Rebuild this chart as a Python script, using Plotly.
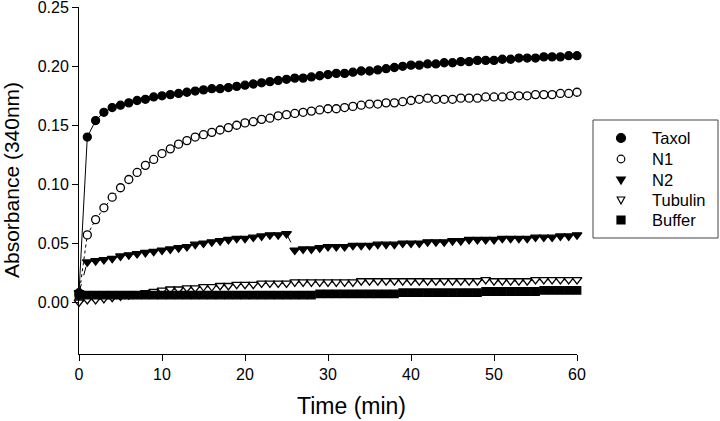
import plotly.graph_objects as go

time = list(range(61))

taxol = [0.008, 0.140, 0.154, 0.161, 0.165, 0.167, 0.169, 0.171, 0.172, 0.174,
         0.175, 0.176, 0.177, 0.178, 0.179, 0.180, 0.181, 0.181, 0.182, 0.183,
         0.184, 0.185, 0.186, 0.187, 0.188, 0.189, 0.190, 0.190, 0.191, 0.192,
         0.193, 0.194, 0.194, 0.195, 0.196, 0.196, 0.197, 0.198, 0.199, 0.200,
         0.201, 0.201, 0.202, 0.202, 0.203, 0.203, 0.204, 0.204, 0.205, 0.205,
         0.205, 0.206, 0.206, 0.207, 0.207, 0.207, 0.208, 0.208, 0.208, 0.209,
         0.209]

n1 = [0.006, 0.057, 0.070, 0.080, 0.089, 0.097, 0.104, 0.110, 0.116, 0.121,
      0.126, 0.130, 0.134, 0.137, 0.140, 0.142, 0.144, 0.146, 0.148, 0.150,
      0.152, 0.153, 0.155, 0.156, 0.158, 0.159, 0.160, 0.161, 0.162, 0.163,
      0.164, 0.164, 0.165, 0.166, 0.167, 0.168, 0.168, 0.169, 0.169, 0.170,
      0.171, 0.172, 0.173, 0.172, 0.172, 0.172, 0.173, 0.173, 0.173, 0.174,
      0.174, 0.174, 0.175, 0.175, 0.175, 0.176, 0.176, 0.176, 0.177, 0.177,
      0.178]

n2 = [0.008, 0.034, 0.035, 0.036, 0.037, 0.039, 0.040, 0.041, 0.042, 0.043,
      0.044, 0.045, 0.046, 0.047, 0.049, 0.050, 0.051, 0.052, 0.053, 0.054,
      0.054, 0.055, 0.056, 0.057, 0.057, 0.058, 0.044, 0.045, 0.045, 0.046,
      0.047, 0.047, 0.047, 0.048, 0.048, 0.048, 0.049, 0.049, 0.049, 0.050,
      0.050, 0.050, 0.051, 0.051, 0.051, 0.052, 0.052, 0.053, 0.053, 0.053,
      0.053, 0.054, 0.054, 0.054, 0.054, 0.055, 0.055, 0.055, 0.056, 0.056,
      0.057]

tubulin = [0.000, 0.002, 0.002, 0.003, 0.004, 0.005, 0.006, 0.007, 0.008, 0.009,
           0.010, 0.011, 0.011, 0.012, 0.012, 0.013, 0.013, 0.014, 0.014, 0.015,
           0.015, 0.015, 0.016, 0.016, 0.016, 0.016, 0.017, 0.017, 0.017, 0.017,
           0.017, 0.017, 0.017, 0.017, 0.018, 0.018, 0.018, 0.018, 0.018, 0.018,
           0.018, 0.018, 0.018, 0.018, 0.018, 0.018, 0.018, 0.018, 0.018, 0.019,
           0.018, 0.018, 0.018, 0.018, 0.018, 0.019, 0.019, 0.019, 0.019, 0.019,
           0.019]

buffer = [0.006, 0.006, 0.006, 0.006, 0.006, 0.006, 0.006, 0.006, 0.006, 0.006,
          0.006, 0.006, 0.006, 0.006, 0.006, 0.006, 0.006, 0.006, 0.006, 0.006,
          0.006, 0.006, 0.006, 0.006, 0.006, 0.006, 0.006, 0.006, 0.006, 0.007,
          0.007, 0.007, 0.007, 0.007, 0.007, 0.007, 0.007, 0.007, 0.007, 0.008,
          0.008, 0.008, 0.008, 0.008, 0.008, 0.008, 0.008, 0.008, 0.008, 0.009,
          0.009, 0.009, 0.009, 0.009, 0.009, 0.009, 0.010, 0.010, 0.010, 0.010,
          0.010]

x_ticks = [0, 10, 20, 30, 40, 50, 60]
y_ticks = [0.00, 0.05, 0.10, 0.15, 0.20, 0.25]
series_names = ["Taxol", "N1", "N2", "Tubulin", "Buffer"]

FONT = "Arial, Liberation Sans, sans-serif"

# plot-area geometry in pixels (figure is 720x421)
PL, PR, PT, PB = 79, 577, 7, 354


def px(x):
    return (x - PL) / (PR - PL)


def py(y):
    return (PB - y) / (PB - PT)


# values, symbol, fill, line dash, marker size
styles = [
    (taxol, "circle", "black", "solid", 8),
    (n1, "circle", "white", "dot", 8),
    (n2, "triangle-down", "black", "dash", 8.5),
    (tubulin, "triangle-down", "white", "dashdot", 8.5),
    (buffer, "square", "black", "longdashdot", 7.5),
]

fig = go.Figure()
for name, (vals, sym, fill, dash, size) in zip(series_names, styles):
    fig.add_trace(go.Scatter(
        x=time, y=vals, name=name, mode="lines+markers",
        line=dict(color="black", width=1, dash=dash),
        marker=dict(symbol=sym, size=size, color=fill,
                    line=dict(color="black", width=1.3)),
        cliponaxis=False, showlegend=False,
    ))

# ---- hand-drawn legend box (glyphs + labels) ----
shapes = [dict(type="rect", xref="paper", yref="paper",
               x0=px(593), x1=px(718), y0=py(238), y1=py(120),
               line=dict(color="#444444", width=1), fillcolor="white", layer="above")]
annotations = []
rows = [138, 159, 180, 200, 220]
mx = 621
for name, (vals, sym, fill, dash, size), ry in zip(series_names, styles, rows):
    lw = 1.2
    if sym == "circle":
        r = 4.5 if fill == "black" else 3.8
        shapes.append(dict(type="circle", xref="paper", yref="paper",
                           x0=px(mx - r), x1=px(mx + r), y0=py(ry + r), y1=py(ry - r),
                           fillcolor=fill, line=dict(color="black", width=lw), layer="above"))
    elif sym == "triangle-down":
        h = 4.0
        w = 4.3 if fill == "black" else 3.8
        path = (f"M {px(mx - w)},{py(ry - h * 0.75)} L {px(mx + w)},{py(ry - h * 0.75)} "
                f"L {px(mx)},{py(ry + h)} Z")
        shapes.append(dict(type="path", xref="paper", yref="paper", path=path,
                           fillcolor=fill, line=dict(color="black", width=lw), layer="above"))
    else:
        s = 4.0
        shapes.append(dict(type="rect", xref="paper", yref="paper",
                           x0=px(mx - s), x1=px(mx + s), y0=py(ry + s), y1=py(ry - s),
                           fillcolor=fill, line=dict(color="black", width=lw), layer="above"))
    annotations.append(dict(text=name, xref="paper", yref="paper",
                            x=px(650), y=py(ry), xanchor="left", yanchor="middle",
                            showarrow=False, font=dict(size=16.5, family=FONT, color="black")))

# axis titles
annotations.append(dict(text="Time (min)", xref="paper", yref="paper",
                        x=px(351), y=py(406), xanchor="center", yanchor="middle",
                        showarrow=False, font=dict(size=23, family=FONT, color="black")))
annotations.append(dict(text="Absorbance (340nm)", xref="paper", yref="paper",
                        x=px(11), y=py(180), xanchor="center", yanchor="middle",
                        textangle=-90, showarrow=False,
                        font=dict(size=21, family=FONT, color="black")))

fig.update_layout(
    width=720, height=421,
    margin=dict(l=PL, r=720 - PR, t=PT, b=421 - PB),
    paper_bgcolor="white", plot_bgcolor="white",
    font=dict(family=FONT, color="black", size=15),
    showlegend=False,
    shapes=shapes, annotations=annotations,
)
fig.update_xaxes(
    range=[0, 60], tickvals=x_ticks, ticktext=[str(v) for v in x_ticks],
    showline=True, linecolor="black", linewidth=1,
    ticks="outside", ticklen=6, tickcolor="black",
    showgrid=False, zeroline=False, automargin=False,
    tickfont=dict(size=16, family=FONT), ticklabeloverflow="allow",
)
fig.update_yaxes(
    range=[-0.044, 0.2503], tickvals=y_ticks, ticktext=[f"{v:.2f}" for v in y_ticks],
    showline=True, linecolor="black", linewidth=1,
    ticks="outside", ticklen=6, tickcolor="black",
    showgrid=False, zeroline=False, automargin=False,
    tickfont=dict(size=16, family=FONT), ticklabeloverflow="allow",
)

fig.write_html("out.html", config={"displayModeBar": False},
               post_script="document.body.style.margin='0px';")
